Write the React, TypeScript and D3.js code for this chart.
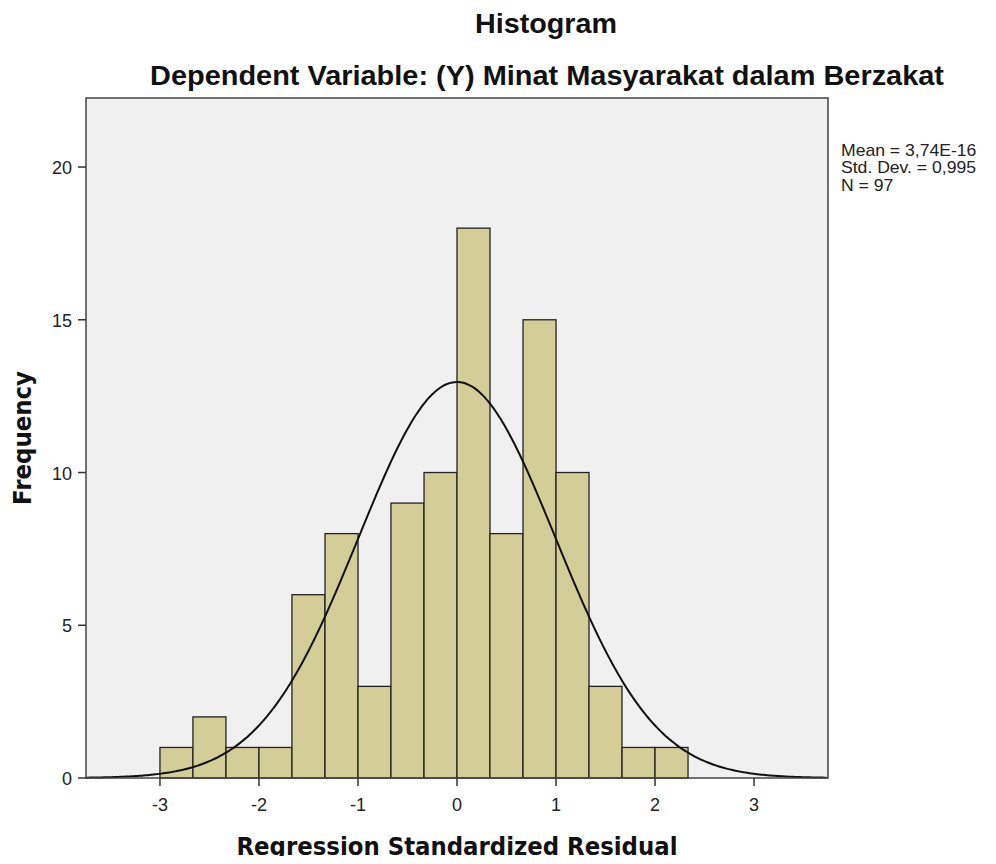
import React, { useEffect, useRef } from 'react';
import * as d3 from 'd3';

// bin edges (standardized residual) and counts
const binStarts = [-3, -2.667, -2.333, -2, -1.667, -1.333, -1, -0.667, -0.333, 0, 0.333, 0.667, 1, 1.333, 1.667, 2];
const binCounts = [1, 2, 1, 1, 6, 8, 3, 9, 10, 18, 8, 15, 10, 3, 1, 1];
const binWidth = 1 / 3;
const xTicks = [-3, -2, -1, 0, 1, 2, 3];
const yTicks = [0, 5, 10, 15, 20];
const statLines = ['Mean = 3,74E-16', 'Std. Dev. = 0,995', 'N = 97'];
const meanVal = 0;
const sdVal = 0.995;
const nVal = 97;

const W = 996;
const H = 864;

export default function App() {
  const svgRef = useRef<SVGSVGElement>(null);

  useEffect(() => {
    if (!svgRef.current) return;
    const svg = d3.select(svgRef.current);
    svg.selectAll('*').remove();

    const mg = { top: 98, right: 168, bottom: 86, left: 86 };
    const iW = W - mg.left - mg.right;
    const iH = H - mg.top - mg.bottom;

    const x = d3.scaleLinear().domain([-3.747, 3.747]).range([0, iW]);
    const y = d3.scaleLinear().domain([0, 22.26]).range([iH, 0]);

    const font = '"Liberation Sans", Arial, sans-serif';
    const boldFont = '"DejaVu Sans", Verdana, sans-serif';

    // titles
    svg.append('text')
      .attr('x', 546).attr('y', 33)
      .attr('text-anchor', 'middle')
      .attr('font-family', font).attr('font-weight', 'bold').attr('font-size', 27)
      .attr('textLength', 142).attr('lengthAdjust', 'spacingAndGlyphs')
      .attr('fill', '#111')
      .text('Histogram');
    svg.append('text')
      .attr('x', 547).attr('y', 85)
      .attr('text-anchor', 'middle')
      .attr('font-family', font).attr('font-weight', 'bold').attr('font-size', 27)
      .attr('textLength', 794).attr('lengthAdjust', 'spacingAndGlyphs')
      .attr('fill', '#111')
      .text('Dependent Variable: (Y) Minat Masyarakat dalam Berzakat');

    const g = svg.append('g').attr('transform', `translate(${mg.left},${mg.top})`);

    // plot background
    g.append('rect')
      .attr('width', iW).attr('height', iH)
      .attr('fill', '#f0f0f0');

    // bars
    g.selectAll('.bar')
      .data(binStarts.map((s, i) => ({ s, c: binCounts[i] })))
      .enter()
      .append('rect')
      .attr('x', d => x(d.s))
      .attr('y', d => y(d.c))
      .attr('width', d => x(d.s + binWidth) - x(d.s))
      .attr('height', d => y(0) - y(d.c))
      .attr('fill', '#d3ce97')
      .attr('stroke', '#222')
      .attr('stroke-width', 1.3);

    // normal curve
    const pdf = (v: number) =>
      Math.exp(-0.5 * ((v - meanVal) / sdVal) ** 2) / (sdVal * Math.sqrt(2 * Math.PI));
    const xs = d3.range(-3.747, 3.748, 0.02);
    const line = d3.line<number>()
      .x(v => x(v))
      .y(v => y(nVal * binWidth * pdf(v)))
      .curve(d3.curveBasis);
    g.append('path')
      .datum(xs)
      .attr('d', line)
      .attr('fill', 'none')
      .attr('stroke', '#111')
      .attr('stroke-width', 2);

    // frame
    g.append('rect')
      .attr('width', iW).attr('height', iH)
      .attr('fill', 'none')
      .attr('stroke', '#444')
      .attr('stroke-width', 1.5);

    // x axis ticks
    xTicks.forEach(t => {
      g.append('line')
        .attr('x1', x(t)).attr('x2', x(t))
        .attr('y1', iH).attr('y2', iH + 8)
        .attr('stroke', '#333').attr('stroke-width', 1.5);
      g.append('text')
        .attr('x', x(t)).attr('y', iH + 33)
        .attr('text-anchor', 'middle')
        .attr('font-family', font).attr('font-size', 18)
        .attr('fill', '#222')
        .text(t < 0 ? `-${Math.abs(t)}` : `${t}`);
    });

    // y axis ticks
    yTicks.forEach(t => {
      g.append('line')
        .attr('x1', -8).attr('x2', 0)
        .attr('y1', y(t)).attr('y2', y(t))
        .attr('stroke', '#333').attr('stroke-width', 1.5);
      g.append('text')
        .attr('x', -14).attr('y', y(t) + 7)
        .attr('text-anchor', 'end')
        .attr('font-family', font).attr('font-size', 18)
        .attr('fill', '#222')
        .text(`${t}`);
    });

    // axis titles
    svg.append('text')
      .attr('x', 457).attr('y', 855)
      .attr('text-anchor', 'middle')
      .attr('font-family', boldFont).attr('font-weight', 'bold').attr('font-size', 24)
      .attr('textLength', 441).attr('lengthAdjust', 'spacingAndGlyphs')
      .attr('fill', '#111')
      .text('Regression Standardized Residual');
    svg.append('text')
      .attr('transform', `translate(31,438) rotate(-90)`)
      .attr('text-anchor', 'middle')
      .attr('font-family', boldFont).attr('font-weight', 'bold').attr('font-size', 24)
      .attr('textLength', 134).attr('lengthAdjust', 'spacingAndGlyphs')
      .attr('fill', '#111')
      .text('Frequency');

    // stats box (slightly stretched horizontally, as in the reference)
    const stats = svg.append('g').attr('transform', 'translate(841,0) scale(1.1,1)');
    statLines.forEach((s, i) => {
      stats.append('text')
        .attr('x', 0).attr('y', 156 + i * 17.5)
        .attr('font-family', font).attr('font-size', 16)
        .attr('fill', '#222')
        .text(s);
    });
  }, []);

  return (
    <div style={{ width: W, height: H, margin: -8, background: '#fff' }}>
      <svg ref={svgRef} width={W} height={H} style={{ display: 'block' }} />
    </div>
  );
}
